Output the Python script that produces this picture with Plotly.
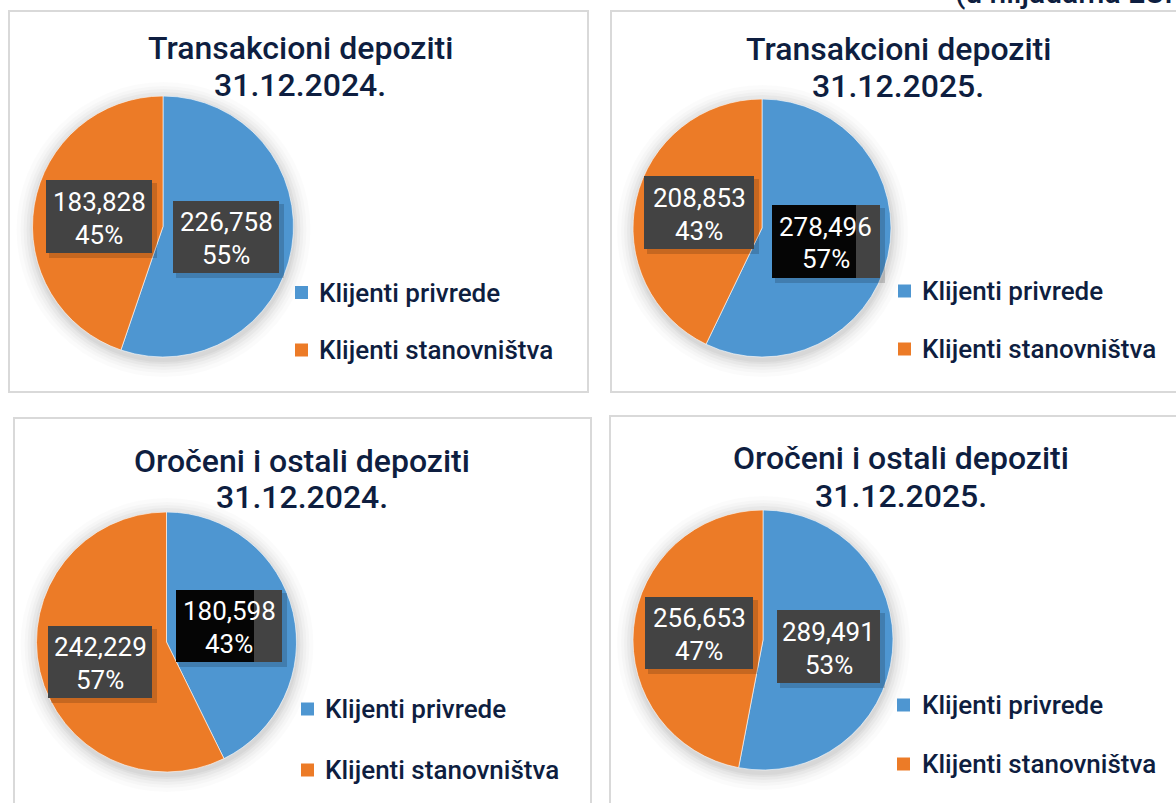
import plotly.graph_objects as go

W, H = 1176, 803

# ---------------- data ----------------
categories = ["Klijenti privrede", "Klijenti stanovništva"]
titles = ["Transakcioni depoziti", "Transakcioni depoziti",
          "Oročeni i ostali depoziti", "Oročeni i ostali depoziti"]
dates = ["31.12.2024.", "31.12.2025.", "31.12.2024.", "31.12.2025."]
trans_2024 = [226758, 183828]
trans_2025 = [278496, 208853]
oroc_2024 = [180598, 242229]
oroc_2025 = [289491, 256653]
unit_note = "(u hiljadama EUR)"

series = [trans_2024, trans_2025, oroc_2024, oroc_2025]

# ---------------- styles / layout constants ----------------
COLORS = ["#4E96D1", "#EC7B27"]
NAVY = "#0E1E40"
FONT = "Roboto, 'DejaVu Sans Condensed', sans-serif"
BOX_GRAY = "#434343"
BORDER = "#D9D9D9"

# pie centre / radius in pixels
pies = [
    dict(cx=163, cy=226.5, r=130.5),
    dict(cx=762, cy=228, r=129),
    dict(cx=166.5, cy=642, r=130),
    dict(cx=763, cy=640, r=130),
]
# panel frames (pixels)
frames = [(9, 11, 588, 392), (611, 11, 1195, 392), (14, 418, 591, 830), (610, 416, 1195, 830)]
# title centre x, line y
title_pos = [(300, 48, 85), (898, 49, 86), (302, 461, 497), (901, 458, 496)]
# label boxes [blue, orange]: (x0, y0, x1, y1, dark_part_x1 or None)
label_boxes = [
    [(173, 201, 279, 273, None), (46, 180, 152, 253, None)],
    [(772, 205, 880, 278, 856), (644, 176, 754, 249, None)],
    [(176, 590, 282, 662, 254), (48, 626, 152, 698, None)],
    [(777, 610, 880, 683, None), (645, 597, 753, 669, None)],
]
# legend: marker x, text x, row y's
legend_pos = [(295, 317, 292.5, 350), (898, 920, 291, 349), (301, 323, 709, 770), (897, 920, 705, 764)]


def px(x):
    return x / W


def py(y):
    return 1 - y / H


fig = go.Figure()
shapes = []
annotations = []

for i, vals in enumerate(series):
    p = pies[i]
    cx, cy, r = p["cx"], p["cy"], p["r"]

    # panel frame
    fx0, fy0, fx1, fy1 = frames[i]
    shapes.append(dict(type="rect", xref="paper", yref="paper",
                       x0=px(fx0), x1=px(fx1), y0=py(fy1), y1=py(fy0),
                       line=dict(color=BORDER, width=2), layer="below"))

    # soft pie shadow
    for grow, op in [(16, 0.015), (12, 0.02), (9, 0.025), (6, 0.03), (3, 0.035), (1, 0.035)]:
        shapes.append(dict(type="circle", xref="paper", yref="paper",
                           x0=px(cx - r - grow), x1=px(cx + r + grow + 1),
                           y0=py(cy + r + grow + 4), y1=py(cy - r - grow + 2),
                           fillcolor=f"rgba(0,0,0,{op})", line=dict(width=0), layer="below"))

    fig.add_trace(go.Pie(
        labels=categories, values=vals, sort=False, direction="clockwise", rotation=0,
        marker=dict(colors=COLORS, line=dict(color="rgba(255,255,255,0.6)", width=1)),
        textinfo="none", hoverinfo="label+value+percent", showlegend=False,
        domain=dict(x=[px(cx - r), px(cx + r)], y=[py(cy + r), py(cy - r)]),
    ))

    # titles
    tx, ty1, ty2 = title_pos[i]
    for txt, yy in ((titles[i], ty1), (dates[i], ty2)):
        annotations.append(dict(text=txt, x=px(tx), y=py(yy), xref="paper", yref="paper",
                                xanchor="center", yanchor="middle", showarrow=False,
                                font=dict(family=FONT, size=32, color=NAVY, weight=500)))

    # data labels
    total = sum(vals)
    for j, v in enumerate(vals):
        x0, y0, x1, y1, dark = label_boxes[i][j]
        # shadow
        shapes.append(dict(type="rect", xref="paper", yref="paper",
                           x0=px(x0 + 3), x1=px(x1 + 5), y0=py(y1 + 5), y1=py(y0 + 3),
                           fillcolor="rgba(0,0,0,0.16)", line=dict(width=0), layer="above"))
        shapes.append(dict(type="rect", xref="paper", yref="paper",
                           x0=px(x0), x1=px(x1), y0=py(y1), y1=py(y0),
                           fillcolor=BOX_GRAY, line=dict(width=0), layer="above"))
        if dark:
            shapes.append(dict(type="rect", xref="paper", yref="paper",
                               x0=px(x0), x1=px(dark), y0=py(y1), y1=py(y0),
                               fillcolor="#050505", line=dict(width=0), layer="above"))
        mid = (y0 + y1) / 2
        annotations.append(dict(text=f"{v:,}", x=px((x0 + x1) / 2), y=py(mid - 15),
                                xref="paper", yref="paper", xanchor="center", yanchor="middle",
                                showarrow=False, font=dict(family=FONT, size=26, color="white")))
        annotations.append(dict(text=f"{round(100 * v / total)}%", x=px((x0 + x1) / 2), y=py(mid + 18),
                                xref="paper", yref="paper", xanchor="center", yanchor="middle",
                                showarrow=False, font=dict(family=FONT, size=26, color="white")))

    # legend (manual)
    mx, tx_, ry1, ry2 = legend_pos[i]
    for j, (cat, ry) in enumerate(zip(categories, (ry1, ry2))):
        shapes.append(dict(type="rect", xref="paper", yref="paper",
                           x0=px(mx), x1=px(mx + 13), y0=py(ry + 6.5), y1=py(ry - 6.5),
                           fillcolor=COLORS[j], line=dict(width=0)))
        annotations.append(dict(text=cat, x=px(tx_), y=py(ry), xref="paper", yref="paper",
                                xanchor="left", yanchor="middle", showarrow=False,
                                font=dict(family=FONT, size=26, color=NAVY, weight=500)))

# clipped unit note at the very top
annotations.append(dict(text=unit_note, x=px(953), y=py(-7), xref="paper", yref="paper",
                        xanchor="left", yanchor="middle", showarrow=False,
                        font=dict(family=FONT, size=30, color=NAVY, weight=500)))

fig.update_layout(
    width=W, height=H, margin=dict(l=0, r=0, t=0, b=0),
    paper_bgcolor="white", plot_bgcolor="white",
    shapes=shapes, annotations=annotations, showlegend=False,
)

fig.write_html("out.html", config={"displayModeBar": False},
               post_script="document.body.style.margin='0';document.body.style.overflow='hidden';")
